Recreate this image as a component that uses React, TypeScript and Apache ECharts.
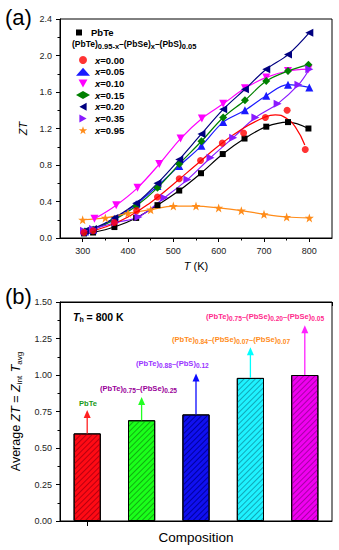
import React, { useEffect, useRef } from "react";
import * as echarts from "echarts";

const FONT = '"Liberation Sans", Arial, Helvetica, sans-serif';

// ---- Panel (a) data ----
const T_PBTE = [303, 323, 370, 418, 465, 513, 561, 609, 657, 705, 753, 798];
const ZT_PBTE = [0.05, 0.06, 0.12, 0.22, 0.36, 0.52, 0.71, 0.92, 1.09, 1.22, 1.27, 1.2];

const T_X000 = [303, 323, 370, 419, 465, 513, 560, 608, 655, 703, 751, 791];
const ZT_X000 = [0.06, 0.08, 0.17, 0.3, 0.45, 0.65, 0.85, 1.04, 1.15, 1.32, 1.4, 0.97];
const FIT_T_X000 = [300, 350, 400, 450, 500, 550, 600, 650, 700, 725, 750, 770, 790];
const FIT_ZT_X000 = [0.05, 0.12, 0.23, 0.39, 0.59, 0.8, 1.01, 1.19, 1.32, 1.35, 1.31, 1.21, 1.02];

const T_X005 = [305, 323, 370, 418, 465, 513, 562, 610, 658, 705, 753, 800];
const ZT_X005 = [0.07, 0.09, 0.21, 0.37, 0.57, 0.79, 1.01, 1.27, 1.4, 1.56, 1.68, 1.65];

const T_X010 = [326, 374, 421, 469, 516, 563, 610, 658, 705, 753, 798];
const ZT_X010 = [0.21, 0.36, 0.55, 0.81, 1.09, 1.31, 1.47, 1.64, 1.76, 1.83, 1.85];

const T_X015 = [305, 323, 370, 418, 465, 513, 562, 610, 658, 705, 753, 798];
const ZT_X015 = [0.07, 0.09, 0.2, 0.35, 0.55, 0.81, 1.06, 1.32, 1.51, 1.72, 1.83, 1.9];

const T_X020 = [305, 323, 370, 418, 465, 513, 562, 610, 658, 705, 753, 800];
const ZT_X020 = [0.08, 0.1, 0.22, 0.38, 0.6, 0.86, 1.14, 1.41, 1.63, 1.85, 2.01, 2.25];

const T_X035 = [303, 323, 373, 423, 480, 531, 582, 632, 681, 730, 776, 800];
const ZT_X035 = [0.08, 0.1, 0.17, 0.23, 0.44, 0.64, 0.88, 1.1, 1.32, 1.47, 1.68, 1.85];

const T_X095 = [300, 350, 400, 450, 500, 550, 600, 650, 700, 750, 800];
const ZT_X095 = [0.2, 0.22, 0.27, 0.31, 0.35, 0.35, 0.33, 0.3, 0.26, 0.23, 0.22];

const T_TICKS = [300, 400, 500, 600, 700, 800];
const T_MINOR_TICKS = [350, 450, 550, 650, 750];

// ---- Panel (b) data ----
const COMPOSITIONS = [
  "PbTe",
  "(PbTe)0.75-(PbSe)0.25",
  "(PbTe)0.88-(PbS)0.12",
  "(PbTe)0.84-(PbSe)0.07-(PbSe)0.07",
  "(PbTe)0.75-(PbSe)0.20-(PbSe)0.05",
];
const AVG_ZT = [0.6, 0.69, 0.73, 0.98, 1.0];
const ARROW_TOP = [0.76, 0.85, 1.01, 1.19, 1.34];

const BAR_COLORS = ["#ff0a14", "#1aff1a", "#1010f0", "#1ef2ff", "#f000f0"];
const HATCH_COLORS = ["#b8000f", "#10b010", "#0000a0", "#10a8b8", "#a800a8"];
const ARROW_COLORS = ["#ff2020", "#22ff22", "#0a0aff", "#00ffff", "#ff22ff"];

const SQUARE = "path://M0,0 L10,0 L10,10 L0,10 Z";
const STAR = "path://M5,0 L6.2,3.6 L10,3.6 L7,5.9 L8.1,9.5 L5,7.3 L1.9,9.5 L3,5.9 L0,3.6 L3.8,3.6 Z";
const TRI_DOWN = "path://M0,0 L10,0 L5,9 Z";
const TRI_LEFT = "path://M0,5 L9,0 L9,10 Z";
const TRI_RIGHT = "path://M0,0 L9,5 L0,10 Z";

const pairs = (t: number[], v: number[]) => t.map((x, i) => [x, v[i]]);

const TOP_SERIES = [
  { name: "PbTe", t: T_PBTE, v: ZT_PBTE, color: "#000000", symbol: "rect", size: 6 },
  { name: "x=0.05", t: T_X005, v: ZT_X005, color: "#1a1aff", symbol: "triangle", size: 8 },
  { name: "x=0.10", t: T_X010, v: ZT_X010, color: "#ff00ff", symbol: TRI_DOWN, size: 8 },
  { name: "x=0.15", t: T_X015, v: ZT_X015, color: "#008000", symbol: "diamond", size: 8 },
  { name: "x=0.20", t: T_X020, v: ZT_X020, color: "#000080", symbol: TRI_LEFT, size: 8 },
  { name: "x=0.35", t: T_X035, v: ZT_X035, color: "#8a1aff", symbol: TRI_RIGHT, size: 8 },
  { name: "x=0.95", t: T_X095, v: ZT_X095, color: "#ff8c1a", symbol: STAR, size: 9 },
];

const LEGEND_X = [
  { name: "x=0.00", icon: "circle" },
  { name: "x=0.05", icon: "triangle" },
  { name: "x=0.10", icon: TRI_DOWN },
  { name: "x=0.15", icon: "diamond" },
  { name: "x=0.20", icon: TRI_LEFT },
  { name: "x=0.35", icon: TRI_RIGHT },
  { name: "x=0.95", icon: STAR },
];

const subRich = (size: number, sub: number, color: string) => ({
  m: { fontSize: size, fontWeight: "bold", fontFamily: FONT, color, lineHeight: size + 2, verticalAlign: "top" },
  s: { fontSize: sub, fontWeight: "bold", fontFamily: FONT, color, lineHeight: 4, verticalAlign: "bottom" },
});

const formula = (parts: string[]) =>
  parts.map((p, i) => (i % 2 === 0 ? `{m|${p}}` : `{s|${p}}`)).join("");

function annotation(text: string, x: number, y: number, color: string, align = "left") {
  return {
    type: "text",
    x,
    y,
    style: {
      text,
      rich: subRich(7.6, 6.6, color),
      fill: color,
      textAlign: align,
      textVerticalAlign: "middle",
    },
  };
}

export default function App() {
  const ref = useRef<HTMLDivElement>(null);
  useEffect(() => {
    if (!ref.current) return;
    const chart = echarts.init(ref.current, null, { renderer: "svg" });

    const topSeries: any[] = TOP_SERIES.map((s) => ({
      type: "line",
      name: s.name,
      xAxisIndex: 0,
      yAxisIndex: 0,
      data: pairs(s.t, s.v),
      smooth: 0.35,
      symbol: s.symbol,
      symbolSize: s.size,
      itemStyle: { color: s.color },
      lineStyle: { color: s.color, width: 1.2 },
      z: 3,
    }));
    topSeries.push({
      type: "scatter",
      name: "x=0.00",
      xAxisIndex: 0,
      yAxisIndex: 0,
      data: pairs(T_X000, ZT_X000),
      symbol: "circle",
      symbolSize: 7,
      itemStyle: { color: "#ff0000" },
      z: 4,
    });
    topSeries.push({
      type: "line",
      name: "x=0.00 fit",
      xAxisIndex: 0,
      yAxisIndex: 0,
      data: pairs(FIT_T_X000, FIT_ZT_X000),
      smooth: 0.5,
      showSymbol: false,
      lineStyle: { color: "#ff0000", width: 1.2 },
      z: 3,
    });

    const axisLineStyle = { color: "#000", width: 1 };
    const labelStyle = { fontSize: 9, color: "#222", fontFamily: FONT };

    const option: any = {
      animation: false,
      textStyle: { fontFamily: FONT },
      grid: [
        { left: 60, top: 19, width: 272, height: 219, show: true, borderColor: "#000", borderWidth: 1, backgroundColor: "transparent" },
        { left: 60, top: 302, width: 272, height: 219, show: true, borderColor: "#000", borderWidth: 1, backgroundColor: "transparent" },
      ],
      legend: [
        {
          data: [{ name: "PbTe", icon: SQUARE }],
          left: 76,
          top: 27,
          orient: "vertical",
          padding: 0,
          itemWidth: 14,
          itemHeight: 6,
          textStyle: { fontSize: 9.5, fontWeight: "bold", color: "#000", lineHeight: 11 },
          selectedMode: false,
        },
        {
          data: LEGEND_X,
          left: 76,
          top: 54.5,
          orient: "vertical",
          padding: 0,
          itemGap: 0.7,
          itemWidth: 14,
          itemHeight: 8,
          selectedMode: false,
          formatter: (n: string) => `{i|x}{n|${n.slice(1)}}`,
          textStyle: {
            lineHeight: 11,
            rich: {
              i: { fontSize: 9.5, fontStyle: "italic", fontWeight: "bold", color: "#000", fontFamily: FONT, lineHeight: 11 },
              n: { fontSize: 9.5, fontWeight: "bold", color: "#000", fontFamily: FONT, lineHeight: 11 },
            },
          },
        },
      ],
      xAxis: [
        {
          type: "value",
          gridIndex: 0,
          min: 250,
          max: 850,
          position: "bottom",
          axisLine: { show: true, lineStyle: axisLineStyle },
          axisTick: { show: true, inside: false, length: 4, customValues: T_TICKS, lineStyle: axisLineStyle },
          axisLabel: { ...labelStyle, margin: 8, customValues: T_TICKS },
          splitLine: { show: false },
          name: "{i|T}{n| (K)}",
          nameLocation: "middle",
          nameGap: 22,
          nameTextStyle: {
            rich: {
              i: { fontSize: 11, fontStyle: "italic", color: "#000", fontFamily: FONT },
              n: { fontSize: 11, color: "#000", fontFamily: FONT },
            },
          },
        },
        {
          type: "value",
          gridIndex: 0,
          min: 250,
          max: 850,
          position: "bottom",
          axisLine: { show: false },
          axisTick: { show: true, length: 2.5, customValues: T_MINOR_TICKS, lineStyle: axisLineStyle },
          axisLabel: { show: false },
          splitLine: { show: false },
        },
        {
          type: "category",
          gridIndex: 1,
          data: COMPOSITIONS,
          position: "bottom",
          axisLine: { show: true, lineStyle: axisLineStyle },
          axisTick: { show: true, alignWithLabel: true, length: 5, lineStyle: axisLineStyle },
          axisLabel: { show: false },
          name: "Composition",
          nameLocation: "middle",
          nameGap: 9,
          nameTextStyle: { fontSize: 13.5, color: "#000", fontFamily: FONT },
        },
        {
          type: "category",
          gridIndex: 1,
          data: COMPOSITIONS,
          position: "top",
          axisLine: { show: true, lineStyle: axisLineStyle },
          axisTick: { show: true, inside: true, length: 4, lineStyle: axisLineStyle },
          axisLabel: { show: false },
        },
      ],
      yAxis: [
        {
          type: "value",
          gridIndex: 0,
          min: 0,
          max: 2.4,
          interval: 0.4,
          axisLine: { show: true, lineStyle: axisLineStyle },
          axisTick: { show: true, length: 4, lineStyle: axisLineStyle },
          minorTick: { show: true, splitNumber: 2, length: 2.5, lineStyle: axisLineStyle },
          axisLabel: { ...labelStyle, margin: 8, formatter: (v: number) => v.toFixed(1) },
          splitLine: { show: false },
          minorSplitLine: { show: false },
          name: "ZT",
          nameLocation: "middle",
          nameGap: 30,
          nameRotate: 90,
          nameTextStyle: { fontSize: 11, fontStyle: "italic", color: "#000", fontFamily: FONT },
        },
        {
          type: "value",
          gridIndex: 1,
          min: 0,
          max: 1.5,
          interval: 0.25,
          axisLine: { show: true, lineStyle: axisLineStyle },
          axisTick: { show: true, length: 4, lineStyle: axisLineStyle },
          minorTick: { show: true, splitNumber: 2, length: 2.5, lineStyle: axisLineStyle },
          axisLabel: { ...labelStyle, margin: 8, formatter: (v: number) => v.toFixed(2) },
          splitLine: { show: false },
          minorSplitLine: { show: false },
          name: "{n|Average }{i|ZT}{n| = }{i|Z}{s|int}{n| }{i|T}{s|avg}",
          nameLocation: "middle",
          nameGap: 29,
          nameRotate: 90,
          nameTextStyle: {
            rich: {
              n: { fontSize: 12.5, color: "#000", fontFamily: FONT, lineHeight: 14, verticalAlign: "top" },
              i: { fontSize: 12.5, fontStyle: "italic", color: "#000", fontFamily: FONT, lineHeight: 14, verticalAlign: "top" },
              s: { fontSize: 8, color: "#000", fontFamily: FONT, lineHeight: 4, verticalAlign: "bottom" },
            },
          },
        },
      ],
      series: [
        ...topSeries,
        {
          type: "bar",
          name: "Average ZT",
          xAxisIndex: 2,
          yAxisIndex: 1,
          barWidth: "50%",
          data: AVG_ZT.map((v, i) => ({
            value: v,
            itemStyle: {
              color: BAR_COLORS[i],
              borderColor: "#000",
              borderWidth: 1,
              decal: {
                symbol: "rect",
                symbolSize: 1,
                dashArrayX: [1, 0],
                dashArrayY: [1, 3],
                rotation: -Math.PI / 4,
                color: HATCH_COLORS[i],
              },
            },
          })),
          z: 2,
        },
        {
          type: "custom",
          name: "arrows",
          xAxisIndex: 2,
          yAxisIndex: 1,
          data: AVG_ZT.map((v, i) => [i, v, ARROW_TOP[i]]),
          encode: { x: 0, y: [1, 2] },
          z: 5,
          renderItem: (params: any, api: any) => {
            const base = api.coord([api.value(0), api.value(1)]);
            const tip = api.coord([api.value(0), api.value(2)]);
            const c = ARROW_COLORS[params.dataIndex];
            return {
              type: "group",
              children: [
                {
                  type: "line",
                  shape: { x1: base[0], y1: base[1], x2: tip[0], y2: tip[1] + 6 },
                  style: { stroke: c, lineWidth: 1.3 },
                },
                {
                  type: "polygon",
                  shape: { points: [[tip[0], tip[1]], [tip[0] - 3.5, tip[1] + 8], [tip[0] + 3.5, tip[1] + 8]] },
                  style: { fill: c },
                },
              ],
            };
          },
        },
      ],
      graphic: [
        { type: "text", x: 5, y: 17, style: { text: "(a)", fontSize: 22, fontFamily: FONT, fill: "#000", textVerticalAlign: "middle" } },
        { type: "text", x: 5, y: 296, style: { text: "(b)", fontSize: 22, fontFamily: FONT, fill: "#000", textVerticalAlign: "middle" } },
        {
          type: "text",
          x: 72,
          y: 45,
          style: {
            text: formula(["(PbTe)", "0.95-x", "–(PbSe)", "x", "–(PbS)", "0.05"]),
            rich: subRich(8.5, 7.5, "#000"),
            fill: "#000",
            textVerticalAlign: "middle",
          },
        },
        {
          type: "text",
          x: 73,
          y: 317,
          style: {
            text: "{i|T}{s|h}{m| = 800 K}",
            rich: {
              i: { fontSize: 10.5, fontWeight: "bold", fontStyle: "italic", fontFamily: FONT, color: "#000", lineHeight: 12, verticalAlign: "top" },
              m: { fontSize: 10.5, fontWeight: "bold", fontFamily: FONT, color: "#000", lineHeight: 12, verticalAlign: "top" },
              s: { fontSize: 7, fontWeight: "bold", fontFamily: FONT, color: "#000", lineHeight: 4, verticalAlign: "bottom" },
            },
            textVerticalAlign: "middle",
          },
        },
        annotation("{m|PbTe}", 88, 404, "#1a9a1a", "center"),
        annotation(formula(["(PbTe)", "0.75", "–(PbSe)", "0.25"]), 100, 389.5, "#990099"),
        annotation(formula(["(PbTe)", "0.88", "–(PbS)", "0.12"]), 136, 364.5, "#9933ff"),
        annotation(formula(["(PbTe)", "0.84", "–(PbSe)", "0.07", "–(PbSe)", "0.07"]), 172, 340, "#ff8c1a"),
        annotation(formula(["(PbTe)", "0.75", "–(PbSe)", "0.20", "–(PbSe)", "0.05"]), 206, 317, "#ff2a8c"),
      ],
    };

    chart.setOption(option);
    return () => chart.dispose();
  }, []);

  return (
    <div
      ref={ref}
      style={{ position: "absolute", left: 0, top: 0, width: 339, height: 550, background: "#fff" }}
    />
  );
}
